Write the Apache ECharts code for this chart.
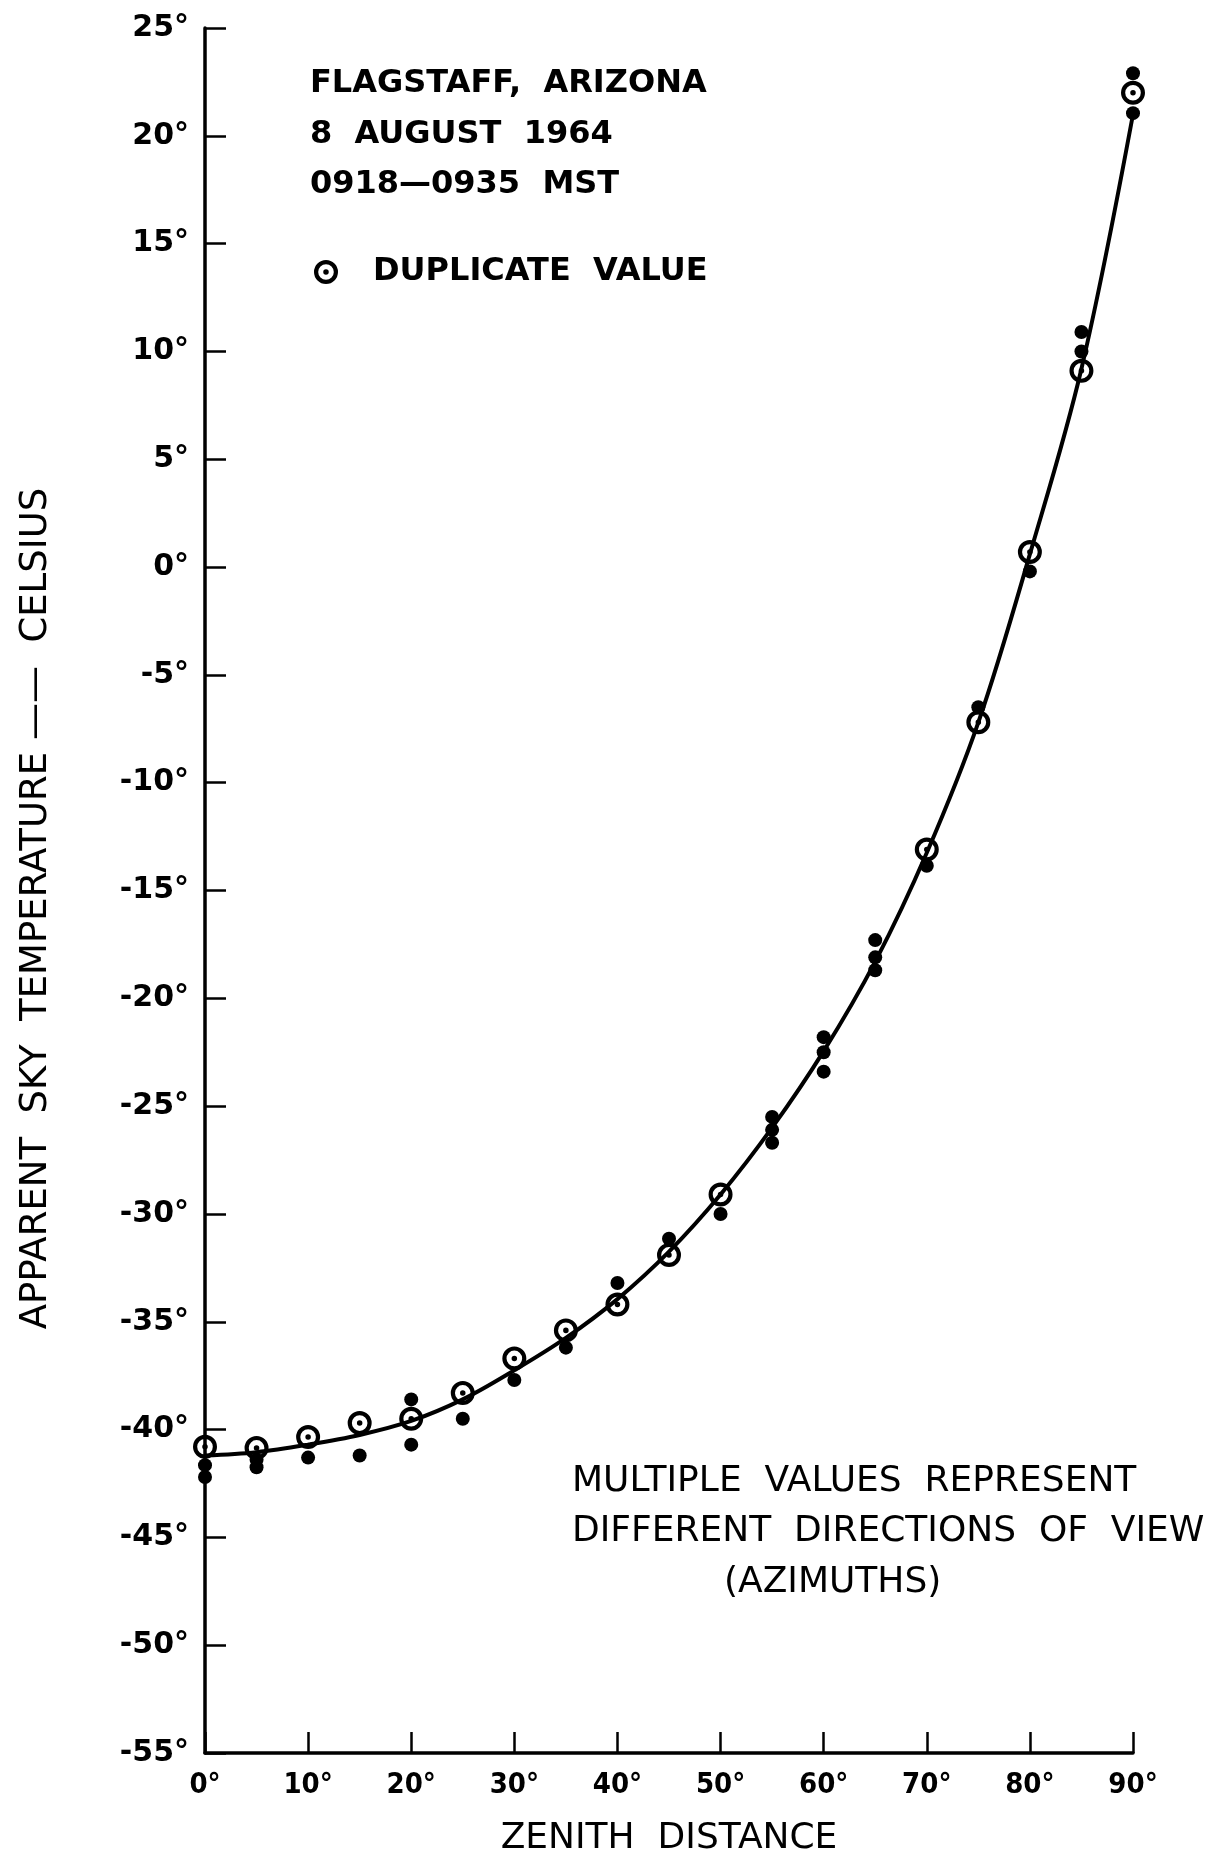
<!DOCTYPE html>
<html>
<head>
<meta charset="utf-8">
<script src="https://cdn.jsdelivr.net/npm/echarts@6/dist/echarts.min.js"></script>
<style>
  html, body { margin: 0; padding: 0; background: #fff; }
  #chart { width: 1222px; height: 1863px; }
</style>
</head>
<body>
<div id="chart"></div>
<script>
// Zenith distance (degrees) at which the smooth fitted curve is sampled
const curveZenith = [0, 5, 10, 15, 20, 25, 30, 35, 40, 45, 50, 55, 60, 65, 70, 75, 80, 85, 90];
// Fitted apparent sky temperature (deg C) along the curve
const curveTemp = [-41.2, -41.05, -40.7, -40.25, -39.6, -38.6, -37.25, -35.75, -33.95, -31.75,
                   -29.1, -26.0, -22.45, -18.3, -13.25, -7.2, 0.6, 9.2, 21.0];

// Duplicate readings [zenith, temperature]
const duplicateValues = [
  [0, -40.8], [5, -40.85], [10, -40.35], [15, -39.7], [20, -39.5], [25, -38.3],
  [30, -36.7], [35, -35.4], [40, -34.2], [45, -31.9], [50, -29.1],
  [70, -13.1], [75, -7.2], [80, 0.7], [85, 9.1], [90, 22.0]
];

// Single readings from different azimuths [zenith, temperature]
const singleValues = [
  [0, -41.65], [0, -42.2], [5, -41.4], [5, -41.75], [10, -41.3], [15, -41.2],
  [20, -38.6], [20, -40.7], [25, -39.5], [30, -37.7], [35, -36.2], [40, -33.2],
  [45, -31.15], [50, -30.0], [55, -25.5], [55, -26.1], [55, -26.7],
  [60, -21.8], [60, -22.5], [60, -23.4], [65, -17.3], [65, -18.1], [65, -18.7],
  [70, -13.85], [75, -6.5], [80, -0.2], [85, 10.9], [85, 10.0], [90, 22.9], [90, 21.05]
];

// Axis ranges and labels
const xRange = { min: 0, max: 90, step: 10 };
const yRange = { min: -55, max: 25, step: 5 };
const degreeLabel = v => v + '°';

const xTitle = 'ZENITH  DISTANCE';
const yTitle = 'APPARENT  SKY  TEMPERATURE ——  CELSIUS';
const headerLines = ['FLAGSTAFF,  ARIZONA', '8  AUGUST  1964', '0918—0935  MST'];
const noteLines = ['MULTIPLE  VALUES  REPRESENT', 'DIFFERENT  DIRECTIONS  OF  VIEW', '(AZIMUTHS)'];
const duplicateName = 'DUPLICATE  VALUE';

// Ring with a centre dot, filled with the nonzero rule
const ringDotSymbol = 'path://M2,12 A10,10 0 1,1 22,12 A10,10 0 1,1 2,12 Z ' +
  'M5.5,12 A6.5,6.5 0 1,0 18.5,12 A6.5,6.5 0 1,0 5.5,12 Z ' +
  'M9.7,12 A2.3,2.3 0 1,1 14.3,12 A2.3,2.3 0 1,1 9.7,12 Z';

const INK = '#000';
const FONT = '"DejaVu Sans", sans-serif';
const COND = '"DejaVu Sans Condensed", "DejaVu Sans", sans-serif';

const chart = echarts.init(document.getElementById('chart'), null, { renderer: 'canvas' });

const headerY = [84, 135, 185];
const noteY = [1482, 1532, 1583];
const noteX = [572, 572, 724];

const graphics = [];
headerLines.forEach((t, i) => graphics.push({
  type: 'text', x: 310, y: headerY[i],
  style: { text: t, fill: INK, fontFamily: FONT, fontWeight: 'bold', fontSize: 32,
           align: 'left', verticalAlign: 'middle' }
}));
noteLines.forEach((t, i) => graphics.push({
  type: 'text', x: noteX[i], y: noteY[i],
  style: { text: t, fill: INK, fontFamily: FONT, fontWeight: 'normal', fontSize: 36,
           align: 'left', verticalAlign: 'middle' }
}));

chart.setOption({
  animation: false,
  backgroundColor: '#fff',
  grid: { left: 205, right: 89, top: 28, bottom: 110, containLabel: false },
  legend: {
    left: 309, top: 251,
    itemWidth: 24, itemHeight: 24,
    data: [{ name: duplicateName, icon: ringDotSymbol }],
    selectedMode: false,
    textStyle: { color: INK, fontFamily: FONT, fontWeight: 'bold', fontSize: 32,
                 padding: [0, 0, 0, 30] }
  },
  xAxis: {
    type: 'value',
    min: xRange.min, max: xRange.max, interval: xRange.step,
    name: xTitle, nameLocation: 'middle', nameGap: 68,
    nameTextStyle: { color: INK, fontFamily: FONT, fontSize: 36 },
    axisLine: { show: true, onZero: false, lineStyle: { color: INK, width: 3.5 } },
    axisTick: { show: true, inside: true, length: 21, lineStyle: { color: INK, width: 2.5 } },
    axisLabel: { color: INK, fontFamily: COND, fontWeight: 'bold', fontSize: 29, margin: 18,
                 formatter: degreeLabel },
    splitLine: { show: false }
  },
  yAxis: {
    type: 'value',
    min: yRange.min, max: yRange.max, interval: yRange.step,
    name: yTitle, nameLocation: 'middle', nameGap: 150,
    nameTextStyle: { color: INK, fontFamily: FONT, fontSize: 37, padding: [0, 36, 0, 0] },
    axisLine: { show: true, onZero: false, lineStyle: { color: INK, width: 3.5 } },
    axisTick: { show: true, inside: true, length: 21, lineStyle: { color: INK, width: 2.5 } },
    axisLabel: { color: INK, fontFamily: FONT, fontWeight: 'bold', fontSize: 30, margin: 16,
                 formatter: degreeLabel },
    splitLine: { show: false }
  },
  series: [
    {
      name: 'fitted curve',
      type: 'line',
      data: curveZenith.map((z, i) => [z, curveTemp[i]]),
      smooth: 0.35,
      showSymbol: false,
      lineStyle: { color: INK, width: 4 },
      z: 2
    },
    {
      name: 'single value',
      type: 'scatter',
      data: singleValues,
      symbol: 'circle',
      symbolSize: 14,
      itemStyle: { color: INK, opacity: 1 },
      z: 3
    },
    {
      name: duplicateName,
      type: 'scatter',
      data: duplicateValues,
      symbol: ringDotSymbol,
      symbolSize: 24,
      itemStyle: { color: INK, opacity: 1 },
      z: 4
    }
  ],
  graphic: graphics
});
</script>
</body>
</html>
